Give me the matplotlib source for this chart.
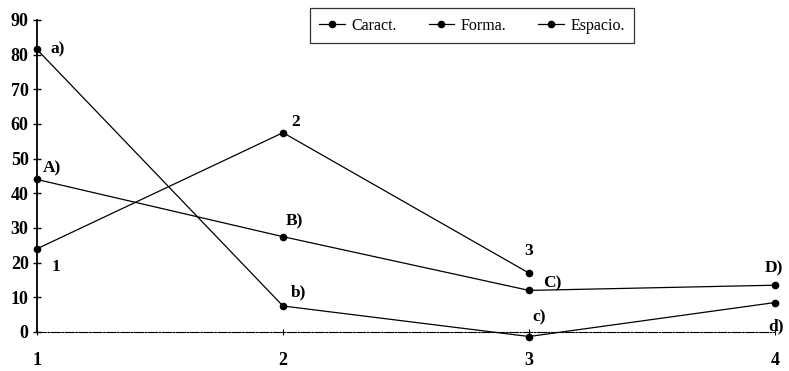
import matplotlib
matplotlib.use("Agg")
import matplotlib.pyplot as plt

x_vals = [1, 2, 3, 4]
caract = [44, 27.5, 12, 13.5]
forma = [24, 57.5, 17]
espacio = [81.5, 7.5, -1.3, 8.5]
series_names = ["Caract.", "Forma.", "Espacio."]
caract_labels = ["A)", "B)", "C)", "D)"]
forma_labels = ["1", "2", "3"]
espacio_labels = ["a)", "b)", "c)", "d)"]
y_ticks = [0, 10, 20, 30, 40, 50, 60, 70, 80, 90]
x_ticks = [1, 2, 3, 4]

plt.rcParams['font.family'] = ['Liberation Serif', 'DejaVu Serif']

fig = plt.figure(figsize=(7.89, 3.71), dpi=100)
ax = fig.add_axes([37/789, (371-342.4)/371, (775-37)/789, (342.4-20)/371])

kw = dict(color='black', lw=0.9, marker='o', markersize=4.5, clip_on=False)
l1, = ax.plot(x_vals[:len(caract)], caract, **kw)
l2, = ax.plot(x_vals[:len(forma)], forma, **kw)
l3, = ax.plot(x_vals[:len(espacio)], espacio, **kw)

lab_kw = dict(textcoords='offset points', fontsize=12.5, fontweight='bold',
              ha='center', va='center')
c_off = [(11, 8), (8, 11), (17, 5), (-1, 12)]
for xv, yv, t, o in zip(x_vals, caract, caract_labels, c_off):
    ax.annotate(t, (xv, yv), xytext=o, **lab_kw)
f_off = [(14, -13), (9, 8), (0, 16)]
for xv, yv, t, o in zip(x_vals, forma, forma_labels, f_off):
    ax.annotate(t, (xv, yv), xytext=o, **lab_kw)
e_off = [(15, 0), (11, 10), (7, 14), (1, -17)]
for xv, yv, t, o in zip(x_vals, espacio, espacio_labels, e_off):
    ax.annotate(t, (xv, yv), xytext=o, **lab_kw)

ax.set_xlim(1, 4)
ax.set_ylim(-3, 90)
ax.set_yticks(y_ticks)
ax.set_xticks(x_ticks)
ax.set_xticklabels([str(v) for v in x_ticks])
for s in ['top', 'right']:
    ax.spines[s].set_visible(False)
ax.spines['left'].set_bounds(0, 90)
ax.spines['left'].set_linewidth(1.3)
ax.spines['bottom'].set_position(('data', 0))
ax.spines['bottom'].set_linewidth(0.8)
ax.spines['bottom'].set_linestyle((0, (8, 1.5, 1.5, 1.5)))
ax.tick_params(axis='y', direction='inout', length=6, width=1, labelsize=13, pad=3)
ax.tick_params(axis='x', direction='inout', length=5, width=0.8, labelsize=13, pad=12)
for lab in ax.get_xticklabels() + ax.get_yticklabels():
    lab.set_fontweight('bold')

leg = fig.legend([l1, l2, l3], series_names, loc='center', ncol=3,
                 bbox_to_anchor=(472/789, 1-25.5/371), frameon=True,
                 fancybox=False, edgecolor='black', fontsize=11.5,
                 handlelength=1.6, columnspacing=2.0, borderpad=0.6,
                 handletextpad=0.4)
leg.get_frame().set_linewidth(0.9)
for h in leg.legend_handles:
    h.set_markersize(4.5)

fig.savefig('out.png', dpi=100)
